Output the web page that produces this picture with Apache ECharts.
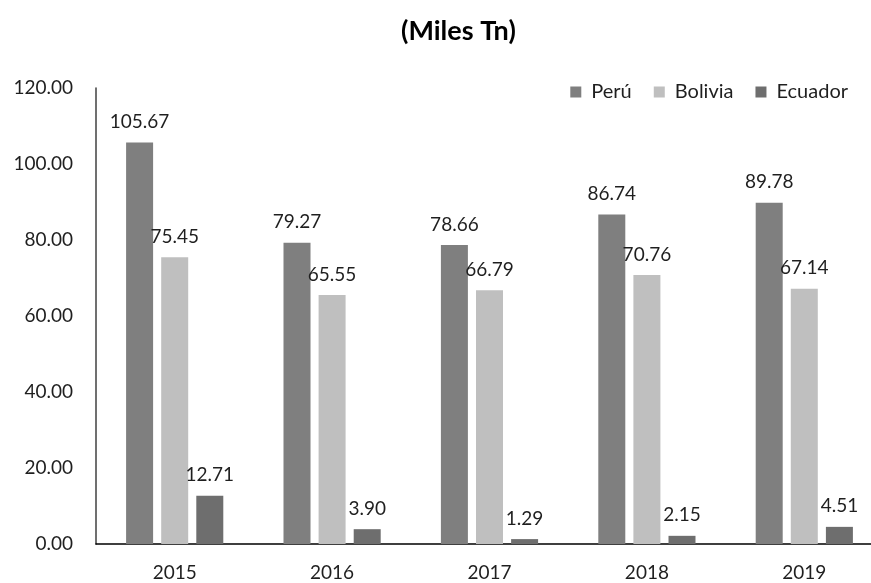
<!DOCTYPE html>
<html>
<head>
<meta charset="utf-8">
<script src="https://cdn.jsdelivr.net/npm/echarts@6/dist/echarts.min.js"></script>
<style>
  html, body { margin: 0; padding: 0; background: #fff; }
  #chart { width: 871px; height: 583px; }
</style>
</head>
<body>
<div id="chart"></div>
<script>
// Production by country, thousands of tonnes
const years = ['2015', '2016', '2017', '2018', '2019'];
const peru = [105.67, 79.27, 78.66, 86.74, 89.78];
const bolivia = [75.45, 65.55, 66.79, 70.76, 67.14];
const ecuador = [12.71, 3.90, 1.29, 2.15, 4.51];
const yTicks = [0, 20, 40, 60, 80, 100, 120];

const FONT = 'Lato, "Open Sans", sans-serif';
const TEXT = '#1f1f1f';

function barSeries(name, data, color) {
  return {
    name: name,
    type: 'bar',
    data: data,
    barWidth: 27,
    barGap: '30%',
    itemStyle: { color: color },
    label: {
      show: true,
      position: 'top',
      distance: 11,
      formatter: p => p.value.toFixed(2),
      color: TEXT,
      fontFamily: FONT,
      fontSize: 19
    }
  };
}

const chart = echarts.init(document.getElementById('chart'), null, { renderer: 'canvas' });
chart.setOption({
  animation: false,
  backgroundColor: '#ffffff',
  title: {
    text: '(Miles Tn)',
    left: 396,
    top: 13,
    textStyle: { fontFamily: FONT, fontWeight: 'bold', fontSize: 27, color: '#000' }
  },
  legend: {
    right: 18,
    top: 77,
    itemWidth: 11,
    itemHeight: 11,
    itemGap: 22,
    icon: 'rect',
    textStyle: { fontFamily: FONT, fontSize: 20, color: TEXT, padding: [0, 0, 0, 5] },
    data: ['Perú', 'Bolivia', 'Ecuador']
  },
  // the category band runs slightly past the right edge of the page
  grid: { left: 96, width: 787, top: 88, bottom: 39, outerBoundsMode: 'none', containLabel: false },
  xAxis: {
    type: 'category',
    data: years,
    axisLine: { lineStyle: { color: '#000', width: 1.5 } },
    axisTick: { show: false },
    axisLabel: { fontFamily: FONT, fontSize: 19, color: TEXT, margin: 19 }
  },
  yAxis: {
    type: 'value',
    min: yTicks[0],
    max: yTicks[yTicks.length - 1],
    interval: yTicks[1] - yTicks[0],
    axisLine: { show: true, lineStyle: { color: '#404040', width: 1.5 } },
    axisTick: { show: false },
    splitLine: { show: false },
    axisLabel: {
      fontFamily: FONT, fontSize: 19, color: TEXT, margin: 23,
      formatter: v => v.toFixed(2)
    }
  },
  series: [
    barSeries('Perú', peru, '#7f7f7f'),
    barSeries('Bolivia', bolivia, '#bfbfbf'),
    barSeries('Ecuador', ecuador, '#6e6e6e')
  ]
});
</script>
</body>
</html>
